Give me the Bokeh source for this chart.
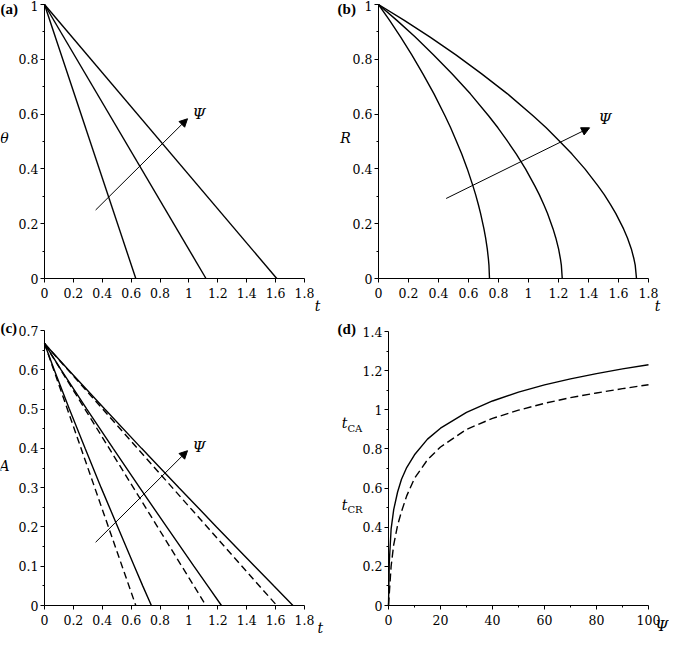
from bokeh.plotting import figure
from bokeh.models import Range1d, Label, Arrow, NormalHead, FixedTicker, NumeralTickFormatter
from bokeh.layouts import column, row
from bokeh.embed import file_html
from bokeh.resources import INLINE

# ---------------- data ----------------
# (a) theta: straight lines from theta=1 at t=0 to theta=0 at t_end
theta_start = 1.0
theta_end_t = [0.632, 1.118, 1.608]

# (b) R(t) curves
R_vals = [1.0, 0.942, 0.881, 0.816, 0.747, 0.674, 0.593, 0.550, 0.503, 0.454, 0.400, 0.339, 0.306,
          0.269, 0.237, 0.181, 0.148, 0.108, 0.072, 0.049, 0.0]
R_t1 = [0.0, 0.074, 0.148, 0.222, 0.296, 0.370, 0.444, 0.481, 0.518, 0.555, 0.592, 0.629, 0.6475,
        0.666, 0.6808, 0.703, 0.7141, 0.7252, 0.7326, 0.7363, 0.740]
R_t2 = [0.0, 0.1225, 0.245, 0.3675, 0.490, 0.6125, 0.735, 0.7963, 0.8575, 0.9188, 0.980, 1.0413, 1.0719,
        1.1025, 1.127, 1.1638, 1.1821, 1.2005, 1.2128, 1.2189, 1.225]
R_t3 = [0.0, 0.172, 0.344, 0.516, 0.688, 0.860, 1.032, 1.118, 1.204, 1.290, 1.376, 1.462, 1.505,
        1.548, 1.5824, 1.634, 1.6598, 1.6856, 1.7028, 1.7114, 1.720]

# (c) A(t): solid curves and dashed straight lines
A_vals = [0.667, 0.6, 0.5, 0.4, 0.3, 0.2, 0.1, 0.05, 0.0]
A_solid_t1 = [0.0, 0.067, 0.172, 0.281, 0.392, 0.507, 0.622, 0.680, 0.740]
A_solid_t2 = [0.0, 0.115, 0.293, 0.475, 0.659, 0.846, 1.034, 1.130, 1.225]
A_solid_t3 = [0.0, 0.165, 0.417, 0.672, 0.931, 1.191, 1.455, 1.587, 1.720]
A_start = 0.667
A_dash_end_t = [0.632, 1.118, 1.608]

# (d) t_CA (solid) and t_CR (dashed) versus Psi
psi_ca = [0, 0.3, 1, 2, 3.5, 5, 7, 10, 15, 20, 30, 40, 50, 60, 70, 80, 90, 100]
t_ca = [0.0, 0.22, 0.39, 0.49, 0.58, 0.645, 0.705, 0.77, 0.85, 0.906, 0.987, 1.045, 1.09, 1.127,
        1.158, 1.185, 1.209, 1.23]
psi_cr = [0, 0.4, 1, 2, 3.5, 5, 7, 10, 15, 20, 30, 40, 50, 60, 70, 80, 90, 100]
t_cr = [0.0, 0.08, 0.20, 0.31, 0.41, 0.48, 0.56, 0.65, 0.745, 0.81, 0.90, 0.956, 0.998, 1.033,
        1.062, 1.086, 1.108, 1.128]

# ticks
t_ticks = [0, 0.2, 0.4, 0.6, 0.8, 1.0, 1.2, 1.4, 1.6, 1.8]
unit_ticks = [0, 0.2, 0.4, 0.6, 0.8, 1.0]
unit_minor = [0.1, 0.3, 0.5, 0.7, 0.9]
A_ticks = [0, 0.1, 0.2, 0.3, 0.4, 0.5, 0.6, 0.7]
A_minor = [0.05, 0.15, 0.25, 0.35, 0.45, 0.55, 0.65]
psi_ticks = [0, 20, 40, 60, 80, 100]
psi_minor = [10, 30, 50, 70, 90]
d_yticks = [0, 0.2, 0.4, 0.6, 0.8, 1.0, 1.2, 1.4]
d_yminor = [0.1, 0.3, 0.5, 0.7, 0.9, 1.1, 1.3]

FONT = "DejaVu Serif"
PFONT = "Liberation Serif"
LW = 1.4


def make_fig(w, h, x0px, xpx_len, y0px, ypx_len, xb, yb, xt, xminor, yt, yminor):
    """Frame covers the whole canvas; axes sit at data 0 via fixed_location."""
    sx = xpx_len / (xb[1] - xb[0])
    sy = ypx_len / (yb[1] - yb[0])
    xr = (xb[0] - x0px / sx, xb[0] + (w - x0px) / sx)
    yr = (yb[0] - (h - y0px) / sy, yb[0] + y0px / sy)
    p = figure(width=w, height=h, output_backend="svg", toolbar_location=None,
               x_range=Range1d(*xr), y_range=Range1d(*yr),
               min_border_left=0, min_border_right=0, min_border_top=0, min_border_bottom=0)
    p.outline_line_color = None
    p.xgrid.visible = False
    p.ygrid.visible = False
    p.xaxis.ticker = FixedTicker(ticks=xt, minor_ticks=xminor)
    p.yaxis.ticker = FixedTicker(ticks=yt, minor_ticks=yminor)
    p.xaxis.fixed_location = yb[0]
    p.yaxis.fixed_location = xb[0]
    p.xaxis.bounds = xb
    p.yaxis.bounds = yb
    for ax in p.xaxis + p.yaxis:
        ax.formatter = NumeralTickFormatter(format="0.[0]")
        ax.axis_line_color = "black"
        ax.axis_line_width = 1
        ax.major_tick_line_color = "black"
        ax.minor_tick_line_color = "black"
        ax.major_tick_in = 0
        ax.major_tick_out = 4
        ax.minor_tick_in = 0
        ax.minor_tick_out = 2
        ax.major_label_text_font = FONT
        ax.major_label_text_font_size = "12.5px"
        ax.major_label_text_color = "black"
    p.xaxis.major_label_standoff = 5
    p.yaxis.major_label_standoff = 2
    return p


def lab(p, x, y, text, size="14px", style="italic", align="center", baseline="middle", font=FONT):
    p.add_layout(Label(x=x, y=y, text=text, text_font=font, text_font_size=size,
                       text_font_style=style, text_align=align, text_baseline=baseline,
                       text_color="black"))


def plabel(p, x, y, text):
    lab(p, x, y, text, size="15px", style="bold", align="left", baseline="top", font=PFONT)


def arrow(p, x0, y0, x1, y1):
    p.add_layout(Arrow(end=NormalHead(size=8, fill_color="black", line_color="black", line_width=1),
                       x_start=x0, y_start=y0, x_end=x1, y_end=y1,
                       line_color="black", line_width=1))


# ---------------- (a) ----------------
pa = make_fig(336, 314, 44, 260, 278, 274, (0, 1.8), (0, 1), t_ticks, [], unit_ticks, unit_minor)
for te in theta_end_t:
    pa.line([0, te], [theta_start, 0], line_color="black", line_width=LW)
arrow(pa, 0.354, 0.25, 0.99, 0.583)
lab(pa, 1.07, 0.60, "Ψ", size="15px")
plabel(pa, -0.305, 1.013, "(a)")
lab(pa, -0.277, 0.511, "θ")
lab(pa, 1.89, -0.102, "t")

# ---------------- (b) ----------------
pb = make_fig(333, 314, 42, 270, 278, 274, (0, 1.8), (0, 1), t_ticks, [], unit_ticks, unit_minor)
for tl in (R_t1, R_t2, R_t3):
    pb.line(tl, R_vals, line_color="black", line_width=LW)
arrow(pb, 0.451, 0.292, 1.407, 0.55)
lab(pb, 1.51, 0.583, "Ψ", size="15px")
plabel(pb, -0.273, 1.013, "(b)")
lab(pb, -0.22, 0.511, "R")
lab(pb, 1.86, -0.102, "t")

# ---------------- (c) ----------------
pc = make_fig(336, 322, 44, 260, 291, 275, (0, 1.8), (0, 0.7), t_ticks, [], A_ticks, A_minor)
for tl in (A_solid_t1, A_solid_t2, A_solid_t3):
    pc.line(tl, A_vals, line_color="black", line_width=LW)
for te in A_dash_end_t:
    pc.line([0, te], [A_start, 0], line_color="black", line_width=LW, line_dash="7 4")
arrow(pc, 0.354, 0.161, 0.99, 0.394)
lab(pc, 1.07, 0.403, "Ψ", size="15px")
plabel(pc, -0.305, 0.728, "(c)")
lab(pc, -0.277, 0.354, "A")
lab(pc, 1.91, -0.056, "t")

# ---------------- (d) ----------------
pd = make_fig(333, 322, 52, 260, 291, 274, (0, 100), (0, 1.4), psi_ticks, psi_minor, d_yticks, d_yminor)
pd.line(psi_ca, t_ca, line_color="black", line_width=LW)
pd.line(psi_cr, t_cr, line_color="black", line_width=LW, line_dash="8 4")
plabel(pd, -19.6, 1.456, "(d)")
lab(pd, -16.9, 0.93, "t", size="14px")
lab(pd, -15.8, 0.904, "CA", size="10px", style="normal", align="left")
lab(pd, -16.9, 0.516, "t", size="14px")
lab(pd, -15.8, 0.490, "CR", size="10px", style="normal", align="left")
lab(pd, 107.7, -0.107, "Ψ", size="15px", align="right")

layout = column(row(pa, pb), row(pc, pd))
open("out.html", "w").write(file_html(layout, INLINE))
